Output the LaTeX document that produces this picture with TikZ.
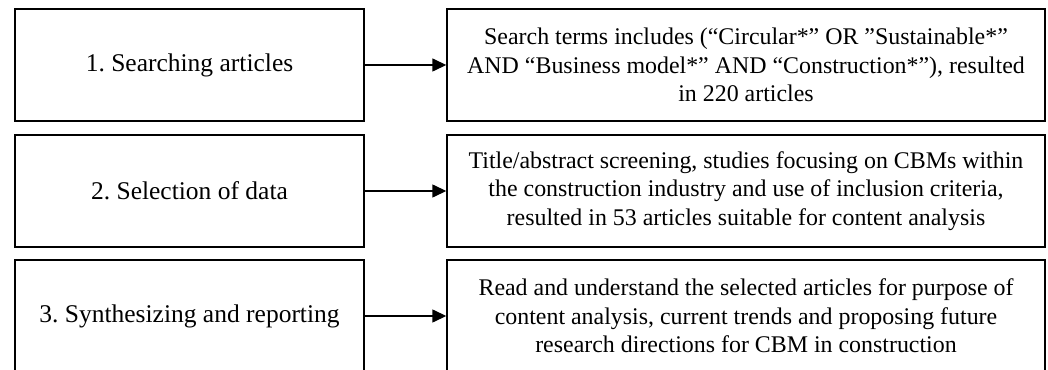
\documentclass[tikz,border=0pt]{standalone}
\usepackage{fontspec}
\setmainfont{Liberation Serif}
\usetikzlibrary{arrows.meta}
\frenchspacing
\begin{document}
\begin{tikzpicture}[x=1pt,y=1pt,
  stepbox/.style={draw, line width=1.4pt, inner sep=0pt, anchor=center},
  leftbox/.style={stepbox, minimum width=349pt, minimum height=112pt, font=\fontsize{25.5}{29}\selectfont},
  rightbox/.style={stepbox, minimum width=598pt, minimum height=112pt, align=center, font=\fontsize{23.9}{28.3}\selectfont},
  conn/.style={line width=1.4pt, -{Triangle[length=14pt,width=13pt]}}]
\useasboundingbox (0,0) rectangle (1048,369);
\node[leftbox] (l1) at (189.5,304) {1. Searching articles};
\node[leftbox] (l2) at (189.5,178) {2. Selection of data};
\node[leftbox] (l3) at (189.5,53) {3. Synthesizing and reporting};
\node[rightbox] (r1) at (746,304) {Search terms includes (“Circular*” OR ”Sustainable*”\\AND “Business model*” AND “Construction*”), resulted\\in 220 articles};
\node[rightbox] (r2) at (746,178) {Title/abstract screening, studies focusing on CBMs within\\the construction industry and use of inclusion criteria,\\resulted in 53 articles suitable for content analysis};
\node[rightbox] (r3) at (746,53) {Read and understand the selected articles for purpose of\\content analysis, current trends and proposing future\\research directions for CBM in construction};
\draw[conn] (l1) -- (r1);
\draw[conn] (l2) -- (r2);
\draw[conn] (l3) -- (r3);
\end{tikzpicture}
\end{document}
